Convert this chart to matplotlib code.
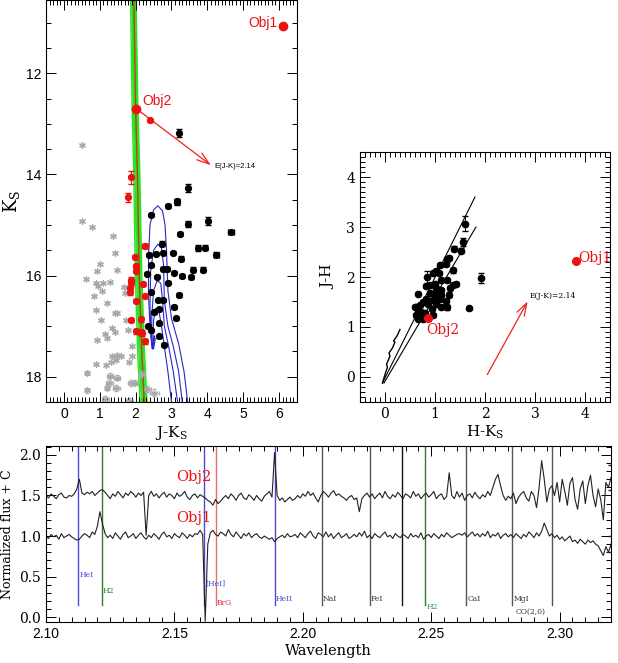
import numpy as np
import matplotlib.pyplot as plt
from matplotlib.ticker import MultipleLocator, FormatStrFormatter

plt.rcParams['font.family'] = 'Liberation Sans'
plt.rcParams['mathtext.fontset'] = 'dejavuserif'
SERIF = 'DejaVu Serif'

# ---------------- CMD (J-Ks vs Ks) ----------------
cmd_obj = {'Obj1': (6.10, 11.06), 'Obj2': (2.02, 12.70)}
cmd_black_jk = [3.22, 3.45, 3.14, 2.91, 3.16, 2.44, 3.47, 4.03, 4.65, 3.25, 2.74, 3.73, 3.93,
                4.25, 2.38, 2.58, 2.75, 3.05, 3.27, 2.44, 2.75, 2.88, 3.61, 3.89, 2.33, 3.08,
                3.30, 3.53, 2.60, 2.91, 2.44, 3.20, 2.63, 2.77, 3.08, 2.66, 2.52, 3.12, 2.64,
                2.35, 2.44, 2.64, 2.80]
cmd_black_k = [13.18, 14.27, 14.53, 14.63, 14.55, 14.80, 14.98, 14.92, 15.14, 15.18, 15.37,
               15.45, 15.45, 15.59, 15.59, 15.57, 15.55, 15.55, 15.67, 15.80, 15.87, 15.87,
               15.88, 15.88, 15.96, 15.94, 16.00, 16.02, 16.02, 16.14, 16.33, 16.39, 16.49,
               16.49, 16.63, 16.67, 16.73, 16.84, 16.94, 17.00, 17.08, 17.20, 17.37]
cmd_black_err = [0.08, 0.08, 0.05, 0.04, 0.06, 0.03, 0.06, 0.07, 0.04, 0.04, 0.05, 0.06, 0.05,
                 0.05, 0.03, 0.03, 0.03, 0.03, 0.05, 0.03, 0.03, 0.03, 0.05, 0.05, 0.03, 0.03,
                 0.04, 0.04, 0.03, 0.03, 0.03, 0.04, 0.03, 0.03, 0.04, 0.03, 0.03, 0.03, 0.03,
                 0.03, 0.03, 0.03, 0.03]
cmd_black_xerr = [0]*8 + [0.08] + [0]*4 + [0.07] + [0]*29
cmd_red_jk = [2.40, 1.88, 1.79, 2.27, 1.99, 2.01, 2.01, 1.88, 1.88, 1.85, 1.83, 2.21, 2.26,
              2.01, 1.88, 2.15, 2.01, 2.18, 2.27, 2.15]
cmd_red_k = [12.93, 14.06, 14.45, 15.41, 15.63, 15.82, 15.90, 16.08, 16.15, 16.25, 16.33,
             16.17, 16.40, 16.50, 16.88, 16.86, 17.10, 17.13, 17.30, 17.12]
cmd_red_err = [0.03, 0.12, 0.09, 0.04, 0.04, 0.05, 0.05, 0.06, 0.05, 0.05, 0.06, 0.04, 0.04,
               0.04, 0.04, 0.05, 0.05, 0.06, 0.05, 0.05]
cmd_red_xerr = [0, 0, 0, 0.08] + [0]*16
cmd_gray_jk = [0.50, 0.50, 0.78, 1.37, 1.43, 1.00, 0.92, 1.48, 0.62, 0.89, 0.95, 1.09, 1.29,
               0.84, 1.06, 1.20, 1.68, 1.71, 0.89, 1.43, 1.48, 1.04, 1.74, 1.34, 1.43, 1.15,
               0.92, 1.20, 1.80, 1.90, 1.48, 1.34, 1.60, 1.46, 1.32, 0.90, 1.18, 1.82, 1.90,
               0.64, 1.29, 1.48, 1.88, 1.99, 1.26, 1.20, 1.46, 0.64, 2.18, 2.33, 2.52, 1.15, 1.82]
cmd_gray_k = [13.42, 14.92, 15.04, 15.22, 15.55, 15.77, 15.90, 15.88, 16.06, 16.15, 16.21,
              16.14, 16.12, 16.41, 16.30, 16.55, 16.23, 16.35, 16.69, 16.75, 16.75, 16.88,
              16.88, 17.04, 17.12, 17.16, 17.27, 17.24, 17.08, 17.39, 17.57, 17.60, 17.59,
              17.67, 17.70, 17.75, 17.76, 17.70, 17.60, 17.92, 17.98, 18.02, 18.12, 18.12,
              18.12, 18.22, 18.22, 18.27, 17.94, 18.24, 18.32, 18.45, 18.49]
cmd_gray_xerr = [0]*39 + [0.05, 0.08, 0.08, 0.1, 0.08, 0.1, 0.06, 0.1, 0.06, 0.08, 0.1, 0.12, 0.1, 0.1]
cmd_gray_yerr = [0]*39 + [0.04, 0.05, 0.05, 0.06, 0.05, 0.06, 0.05, 0.06, 0.05, 0.06, 0.06, 0.07, 0.06, 0.07]

iso_red = [(1.95, 10.5), (2.00, 12.7), (2.05, 14.0), (2.10, 16.0), (2.17, 17.5), (2.24, 18.5)]
iso_green_shift = [-0.09, -0.06, -0.04, -0.02, 0.0, 0.02, 0.04, 0.06]
tracks = [
    [(3.45, 18.5), (3.35, 17.9), (3.20, 17.35), (3.00, 16.85), (2.90, 16.3), (2.86, 15.5),
     (2.82, 15.0), (2.75, 14.72), (2.62, 14.62), (2.50, 14.7), (2.40, 15.0), (2.36, 15.6),
     (2.36, 16.4), (2.40, 17.0), (2.46, 17.45), (2.51, 17.2)],
    [(3.30, 18.5), (3.20, 17.9), (3.05, 17.4), (2.90, 17.0), (2.80, 16.5), (2.78, 15.8),
     (2.72, 15.45), (2.62, 15.38), (2.50, 15.5), (2.42, 15.9), (2.40, 16.6), (2.43, 17.2),
     (2.47, 17.45), (2.52, 17.2)],
    [(3.17, 18.5), (3.05, 17.9), (2.92, 17.4), (2.80, 17.0), (2.75, 16.5), (2.70, 16.15),
     (2.60, 16.1), (2.50, 16.3), (2.45, 16.8), (2.45, 17.3), (2.48, 17.45), (2.53, 17.2)],
    [(3.00, 18.5), (2.90, 17.9), (2.80, 17.4), (2.72, 17.0), (2.65, 16.7), (2.55, 16.65),
     (2.50, 16.9), (2.48, 17.3), (2.50, 17.45), (2.55, 17.25)],
]
cmd_arrow = [(2.02, 12.70), (4.16, 13.85)]

# ---------------- colour-colour (H-Ks vs J-H) ----------------
cc_obj = {'Obj1': (3.82, 2.32), 'Obj2': (0.86, 1.18)}
cc_hk = [1.60, 1.57, 1.53, 1.38, 1.24, 1.29, 1.22, 1.10, 1.02, 0.97, 1.08, 0.85, 1.37, 1.43,
         1.37, 1.24, 1.13, 1.00, 0.90, 0.83, 1.02, 1.12, 1.31, 0.67, 0.90, 1.00, 1.13, 1.29,
         0.83, 0.97, 1.10, 1.22, 1.03, 0.87, 0.77, 0.70, 1.13, 1.69, 1.92, 0.63, 0.67, 0.73,
         0.63, 0.70, 0.77, 0.67, 0.83, 0.97, 0.95, 1.24, 0.60, 0.72, 0.80]
cc_jh = [3.07, 2.70, 2.53, 2.57, 2.36, 2.39, 2.27, 2.24, 2.13, 2.09, 2.09, 2.00, 2.14, 1.86,
         1.84, 1.94, 1.94, 1.87, 1.84, 1.81, 1.78, 1.74, 1.78, 1.66, 1.67, 1.65, 1.64, 1.64,
         1.55, 1.53, 1.55, 1.51, 1.46, 1.46, 1.49, 1.43, 1.39, 1.37, 1.98, 1.39, 1.29, 1.23,
         1.23, 1.19, 1.16, 1.16, 1.19, 1.23, 1.36, 1.39, 1.40, 1.30, 1.27]
cc_err = [0.15, 0.08, 0.05, 0.05, 0.05, 0.04, 0.04, 0.04, 0.04, 0.04, 0.04, 0.12, 0.05, 0.05,
          0.04, 0.04, 0.04, 0.04, 0.04, 0.04, 0.04, 0.04, 0.04, 0.03, 0.04, 0.04, 0.04, 0.05,
          0.04, 0.04, 0.04, 0.05, 0.04, 0.04, 0.04, 0.03, 0.04, 0.03, 0.10, 0.03, 0.03, 0.03,
          0.03, 0.03, 0.03, 0.03, 0.03, 0.03, 0.03, 0.05, 0.03, 0.03, 0.03]
cc_band_upper = [(-0.05, -0.12), (1.80, 3.60)]
cc_band_lower = [(-0.02, -0.12), (1.82, 3.00)]
cc_locus = [(-0.05, -0.12), (0.00, 0.05), (0.05, 0.20), (0.03, 0.25), (0.10, 0.42),
            (0.08, 0.48), (0.15, 0.58), (0.20, 0.70), (0.17, 0.72), (0.24, 0.82), (0.30, 0.95)]
cc_arrow = [(2.02, 0.00), (2.88, 1.56)]

# ---------------- spectra ----------------
wave_start, wave_step = 2.100, 0.001
flux_obj2 = [1.50, 1.47, 1.52, 1.49, 1.46, 1.51, 1.53, 1.48, 1.47, 1.50,
             1.49, 1.52, 1.58, 1.70, 1.53, 1.51, 1.54, 1.52, 1.55, 1.50,
             1.53, 1.56, 1.57, 1.54, 1.50, 1.46, 1.52, 1.49, 1.55, 1.51,
             1.47, 1.53, 1.50, 1.55, 1.52, 1.48, 1.53, 1.50, 1.54, 1.01,
             1.50, 1.55, 1.49, 1.52, 1.47, 1.51, 1.54, 1.48, 1.52, 1.50,
             1.46, 1.53, 1.49, 1.51, 1.55, 1.48, 1.45, 1.50, 1.52, 1.47,
             1.51, 1.49, 1.47, 1.44, 1.42, 1.38, 1.45, 1.40, 1.43, 1.47,
             1.50, 1.46, 1.52, 1.49, 1.44, 1.50, 1.53, 1.47, 1.45, 1.51,
             1.48, 1.44, 1.50, 1.46, 1.43, 1.49, 1.52, 1.55, 1.48, 2.03,
             1.50, 1.44, 1.47, 1.42, 1.45, 1.48, 1.44, 1.46, 1.50, 1.47,
             1.52, 1.49, 1.55, 1.50, 1.53, 1.47, 1.42, 1.50, 1.55, 1.52,
             1.48, 1.53, 1.56, 1.50, 1.52, 1.49, 1.47, 1.44, 1.48, 1.50,
             1.45, 1.47, 1.30, 1.46, 1.50, 1.53, 1.48, 1.52, 1.46, 1.50,
             1.53, 1.47, 1.55, 1.49, 1.46, 1.51, 1.48, 1.54, 1.50, 1.46,
             1.52, 1.50, 1.47, 1.55, 1.49, 1.52, 1.46, 1.50, 1.53, 1.48,
             1.51, 1.55, 1.46, 1.50, 1.52, 1.45, 1.49, 1.78, 1.50, 1.46,
             1.55, 1.48, 1.53, 1.44, 1.50, 1.52, 1.47, 1.54, 1.49, 1.46,
             1.51, 1.48, 1.55, 1.50, 1.60, 1.70, 1.76, 1.62, 1.50, 1.44,
             1.49, 1.46, 1.53, 1.40, 1.48, 1.52, 1.55, 1.47, 1.43, 1.55,
             1.50, 1.35, 1.60, 1.93, 1.70, 1.42, 1.58, 1.62, 1.50, 1.66,
             1.42, 1.70, 1.55, 1.38, 1.65, 1.72, 1.45, 1.33, 1.58, 1.68,
             1.40, 1.62, 1.75, 1.50, 1.36, 1.58, 1.45, 1.20, 1.66, 1.60,
             1.72]
flux_obj1 = [1.00, 0.97, 1.02, 0.99, 1.01, 0.96, 1.03, 0.98, 1.00, 1.02,
             0.99, 0.97, 0.95, 0.96, 1.00, 1.03, 1.01, 0.98, 1.05, 1.02,
             1.12, 1.30, 1.15, 1.03, 0.98, 1.01, 0.97, 1.04, 1.00, 0.96,
             1.02, 1.05, 0.98, 1.00, 1.03, 0.97, 1.01, 1.04, 0.99, 0.96,
             1.01, 0.98, 1.03, 1.00, 0.96, 1.02, 1.05, 0.99, 1.01, 0.97,
             1.03, 1.00, 0.98, 1.04, 1.01, 0.97, 1.02, 0.99, 1.03, 1.02,
             1.07, 1.02, -0.05, 0.90, 1.04, 1.07, 1.02, 1.00, 1.05, 1.03,
             1.00, 1.08, 1.02, 0.99, 1.05, 1.01, 0.97, 1.03, 1.00, 1.04,
             0.98, 1.01, 1.03, 0.99, 0.97, 1.00, 0.98, 0.96, 0.98, 0.93,
             0.97, 0.99, 1.01, 0.98, 1.03, 0.99, 1.00, 1.02, 0.98, 1.04,
             1.01, 0.98, 1.03, 1.06, 1.00, 0.97, 1.04, 1.02, 0.99, 1.05,
             0.99, 1.03, 0.97, 1.01, 1.04, 0.98, 1.00, 1.03, 0.97, 0.99,
             1.02, 0.99, 1.04, 1.00, 1.06, 0.98, 1.01, 0.97, 1.03, 1.00,
             0.98, 1.02, 1.05, 0.99, 1.01, 0.97, 1.03, 1.00, 0.98, 1.02,
             1.00, 0.97, 1.03, 0.99, 1.01, 0.98, 1.04, 0.96, 1.00, 1.02,
             0.98, 1.03, 1.00, 0.97, 1.02, 0.99, 1.04, 1.01, 0.98, 1.00,
             1.02, 1.03, 1.01, 1.04, 0.99, 1.02, 1.05, 1.00, 1.03, 0.99,
             1.03, 1.00, 1.06, 0.98, 1.02, 1.00, 1.04, 0.97, 1.01, 1.03,
             0.99, 1.02, 0.98, 1.03, 1.00, 0.97, 1.02, 0.99, 1.05, 1.02,
             0.98, 1.04, 1.00, 1.06, 1.16, 1.08, 1.00, 1.03, 0.98, 1.01,
             0.96, 0.99, 0.94, 0.97, 1.00, 0.93, 0.95, 0.91, 0.96, 0.93,
             0.90, 0.95, 0.92, 0.94, 0.90, 0.88, 0.82, 0.76, 0.87, 0.80,
             0.90]
line_names = ['HeI', 'H2', '[HeI]', 'BrG', 'HeII', 'NaI', 'FeI', '', 'H2', 'CaI', 'MgI', 'CO(2,0)']
line_waves = [2.1126, 2.1218, 2.1617, 2.1661, 2.1891, 2.2074, 2.2262, 2.2386, 2.2477, 2.2637, 2.2816, 2.2969]
line_label_y = [0.52, 0.32, 0.42, 0.17, 0.22, 0.22, 0.22, 0.22, 0.12, 0.22, 0.22, 0.06]
line_colors = ['#4a4ad8', '#2e7d2e', '#4a4ad8', '#e07070', '#4a4ad8', '#555555', '#555555',
               '#111111', '#2e7d2e', '#555555', '#555555', '#555555']
label_colors = ['#4a4ad8', '#2e7d2e', '#4a4ad8', '#e03030', '#4a4ad8', '#333333', '#333333',
                '#333333', '#2e9d2e', '#333333', '#333333', '#333333']

fig = plt.figure(figsize=(6.18, 6.63), dpi=100)
ax1 = fig.add_axes([0.0744, 0.3937, 0.4062, 0.6063])
ax2 = fig.add_axes([0.5825, 0.3937, 0.4045, 0.3770])
ax3 = fig.add_axes([0.0744, 0.0618, 0.9143, 0.2655])

for ax in (ax1, ax2, ax3):
    ax.tick_params(which='both', direction='in', top=True, right=True, width=0.7)
    ax.tick_params(which='major', length=7)
    ax.tick_params(which='minor', length=3.5)
    for s in ax.spines.values():
        s.set_linewidth(0.8)

# ---- CMD ----
for dx in iso_green_shift:
    ax1.plot([p[0] + dx * (1 + 0.3 * (p[1] - 10.5) / 8) for p in iso_red],
             [p[1] for p in iso_red], color='#22e822', lw=1.0, zorder=1)
ax1.plot([p[0] for p in iso_red], [p[1] for p in iso_red], color='#d83020', lw=1.0, zorder=2)
for tr in tracks:
    ax1.plot([p[0] for p in tr], [p[1] for p in tr], color='#2828c8', lw=0.8, zorder=2)
ax1.errorbar(cmd_gray_jk, cmd_gray_k, xerr=cmd_gray_xerr, yerr=cmd_gray_yerr, fmt='none',
             ecolor='#b0b0b0', elinewidth=0.6, capsize=1.5, zorder=1)
ax1.scatter(cmd_gray_jk, cmd_gray_k, marker=(6, 2, 0), s=18, color='#a8a8a8', lw=0.9, zorder=2)
ax1.errorbar(cmd_black_jk, cmd_black_k, xerr=cmd_black_xerr, yerr=cmd_black_err, fmt='o',
             ms=4.2, color='black', ecolor='black', elinewidth=0.8, capsize=2.2, zorder=3)
ax1.errorbar(cmd_red_jk, cmd_red_k, xerr=cmd_red_xerr, yerr=cmd_red_err, fmt='o', ms=4.2,
             color='#ee1111', ecolor='#ee1111', elinewidth=0.8, capsize=2.2, zorder=3)
for name, (x, y) in cmd_obj.items():
    ax1.plot(x, y, 'o', ms=6, color='#ee1111', zorder=4)
ax1.text(5.95, 11.0, 'Obj1', color='#ee1111', fontsize=10, ha='right', va='center')
ax1.text(2.2, 12.55, 'Obj2', color='#ee1111', fontsize=10, ha='left', va='center')
ax1.annotate('', xy=cmd_arrow[1], xytext=cmd_arrow[0],
             arrowprops=dict(arrowstyle='->,head_length=0.9,head_width=0.3', color='#ee2222', lw=0.9))
ax1.text(4.2, 13.85, 'E(J-K)=2.14', fontsize=5.5, va='center', ha='left')
ax1.set_xlim(-0.5, 6.5)
ax1.set_ylim(18.5, 10.55)
ax1.xaxis.set_major_locator(MultipleLocator(1))
ax1.xaxis.set_minor_locator(MultipleLocator(0.1))
ax1.yaxis.set_major_locator(MultipleLocator(2))
ax1.yaxis.set_minor_locator(MultipleLocator(0.5))
ax1.tick_params(labelsize=10)
ax1.set_xlabel(r'J-K$_\mathregular{S}$', family=SERIF, fontsize=11, labelpad=2)
ax1.set_ylabel(r'K$_\mathregular{S}$', family=SERIF, fontsize=13)
ax1.yaxis.set_label_coords(-0.095, 0.5)

# ---- colour-colour ----
for band in (cc_band_upper, cc_band_lower):
    ax2.plot([p[0] for p in band], [p[1] for p in band], color='black', lw=0.8)
ax2.plot([p[0] for p in cc_locus], [p[1] for p in cc_locus], color='black', lw=1.0)
ax2.errorbar(cc_hk, cc_jh, yerr=cc_err, fmt='o', ms=4.5, color='black', ecolor='black',
             elinewidth=0.7, capsize=2.2)
ax2.plot(*cc_obj['Obj1'], 'o', ms=5.5, color='#ee1111', zorder=4)
ax2.plot(*cc_obj['Obj2'], 'o', ms=5.5, color='#ee1111', zorder=4)
ax2.text(3.87, 2.38, 'Obj1', color='#ee1111', fontsize=10, family=SERIF, va='center')
ax2.text(0.82, 0.94, 'Obj2', color='#ee1111', fontsize=10, family=SERIF, va='center')
ax2.annotate('', xy=cc_arrow[1], xytext=cc_arrow[0],
             arrowprops=dict(arrowstyle='->,head_length=0.9,head_width=0.3', color='#ee2222', lw=0.9))
ax2.text(2.9, 1.62, 'E(J-K)=2.14', fontsize=5.5, family=SERIF, va='center')
ax2.set_xlim(-0.5, 4.5)
ax2.set_ylim(-0.5, 4.5)
for axis in (ax2.xaxis, ax2.yaxis):
    axis.set_major_locator(MultipleLocator(1))
    axis.set_minor_locator(MultipleLocator(0.1))
for lab in ax2.get_xticklabels() + ax2.get_yticklabels():
    lab.set_family(SERIF)
ax2.tick_params(labelsize=10)
ax2.set_xlabel(r'H-K$_\mathregular{S}$', family=SERIF, fontsize=11, labelpad=2)
ax2.set_ylabel('J-H', family=SERIF, fontsize=11, labelpad=8)

# ---- spectra ----
wave = wave_start + wave_step * np.arange(len(flux_obj2))
ax3.plot(wave, flux_obj2, color='#222222', lw=0.8)
ax3.plot(wave, flux_obj1, color='#222222', lw=0.8)
ax3.errorbar([wave[-1], wave[-1]], [flux_obj2[-1], flux_obj1[-1]], yerr=[0.15, 0.1], fmt='none',
             ecolor='#222222', elinewidth=0.7, capsize=2)
for nm, w, ly, c, lc in zip(line_names, line_waves, line_label_y, line_colors, label_colors):
    ax3.plot([w, w], [0.15, 2.2], color=c, lw=1.0, zorder=0)
    if nm:
        ha = 'right' if nm.startswith('CO') else 'left'
        xt = w - 0.0025 if ha == 'right' else w + 0.0003
        ax3.text(xt, ly, nm, color=lc, fontsize=5.5, family=SERIF, ha=ha, va='center')
ax3.text(2.1505, 1.73, 'Obj2', color='#ee1111', fontsize=10.5, family=SERIF, va='center')
ax3.text(2.1505, 1.22, 'Obj1', color='#ee1111', fontsize=10.5, family=SERIF, va='center')
ax3.set_xlim(2.10, 2.32)
ax3.set_ylim(-0.06, 2.11)
ax3.xaxis.set_major_locator(MultipleLocator(0.05))
ax3.xaxis.set_minor_locator(MultipleLocator(0.005))
ax3.yaxis.set_major_locator(MultipleLocator(0.5))
ax3.yaxis.set_minor_locator(MultipleLocator(0.1))
ax3.xaxis.set_major_formatter(FormatStrFormatter('%.2f'))
ax3.yaxis.set_major_formatter(FormatStrFormatter('%.1f'))
for lab in ax3.get_yticklabels():
    lab.set_family(SERIF)
ax3.tick_params(labelsize=10)
ax3.set_xlabel('Wavelength', family=SERIF, fontsize=10.5, labelpad=2)
ax3.set_ylabel('Normalized flux + C', family=SERIF, fontsize=9)
ax3.yaxis.set_label_coords(-0.056, 0.5)

fig.savefig('out.png', dpi=100)
